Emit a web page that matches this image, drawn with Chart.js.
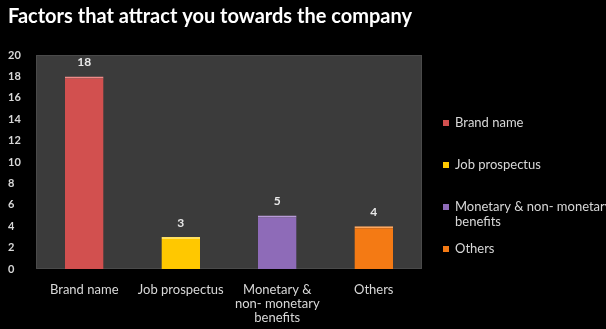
<!DOCTYPE html>
<html><head><meta charset="utf-8">
<script src="https://cdn.jsdelivr.net/npm/chart.js@4"></script>
<style>html,body{margin:0;padding:0;background:#000;}#wrap{width:606px;height:329px;position:relative;}</style>
</head><body><div id="wrap"><canvas id="c" width="606" height="329"></canvas></div>
<script>
const titleText = "Factors that attract you towards the company";
const categories = [["Brand name"], ["Job prospectus"], ["Monetary &", "non- monetary", "benefits"], ["Others"]];
const legendLabels = [["Brand name"], ["Job prospectus"], ["Monetary & non- monetary", "benefits"], ["Others"]];
const values = [18, 3, 5, 4];
const barColors = ["#d2504f", "#ffc800", "#8e6bb8", "#f47a14"];
const topColors = ["#f08a88", "#ffe060", "#b89ad8", "#ffa860"];
const yTicks = [0, 2, 4, 6, 8, 10, 12, 14, 16, 18, 20];

const FONT = "Lato, 'Open Sans', sans-serif";
const TXT = "#d8d8d8";

const bgPlugin = {
  id: 'bg',
  beforeDraw(chart) {
    const {ctx, chartArea: a} = chart;
    ctx.save();
    ctx.fillStyle = "#3b3b3b";
    ctx.fillRect(a.left, a.top, a.right - a.left, a.bottom - a.top);
    ctx.strokeStyle = "#4a4a4a";
    ctx.lineWidth = 1;
    ctx.strokeRect(a.left + 0.5, a.top + 0.5, a.right - a.left - 1, a.bottom - a.top - 1);
    ctx.restore();
  },
  afterDraw(chart) {
    const {ctx} = chart;
    ctx.save();
    // title
    ctx.fillStyle = "#ffffff";
    ctx.font = "bold 20px " + FONT;
    ctx.textBaseline = "middle";
    ctx.textAlign = "left";
    ctx.fillText(titleText, 8, 17);
    // value labels
    const meta = chart.getDatasetMeta(0);
    ctx.font = "bold 12px " + FONT;
    ctx.textAlign = "center";
    ctx.fillStyle = "#e8e8e8";
    meta.data.forEach((bar, i) => {
      ctx.fillText(String(values[i]), bar.x, bar.y - 14);
    });
    // legend
    ctx.textAlign = "left";
    ctx.font = "13px " + FONT;
    let y = 123;
    legendLabels.forEach((lines, i) => {
      ctx.fillStyle = barColors[i];
      ctx.fillRect(443, y - 3, 6, 6);
      ctx.fillStyle = TXT;
      lines.forEach((ln, k) => ctx.fillText(ln, 455, y + k * 15));
      y += 42;
    });
    ctx.restore();
  }
};

new Chart(document.getElementById('c'), {
  type: 'bar',
  data: {
    labels: categories,
    datasets: [{
      data: values,
      backgroundColor: barColors,
      borderColor: topColors,
      borderWidth: {top: 2, left: 0, right: 0, bottom: 0},
      borderSkipped: false,
      categoryPercentage: 1,
      barPercentage: 0.4
    }]
  },
  options: {
    responsive: false,
    animation: false,
    layout: {padding: {left: 8, top: 55, right: 184, bottom: 0}},
    plugins: {legend: {display: false}, title: {display: false}, tooltip: {enabled: false}},
    scales: {
      x: {
        grid: {display: false, drawTicks: false},
        border: {display: false},
        ticks: {color: TXT, font: {family: FONT, size: 13, lineHeight: 1.08}, padding: 14, maxRotation: 0, autoSkip: false},
        afterFit(s) { s.height = 60; }
      },
      y: {
        min: 0, max: 20,
        afterBuildTicks(s) { s.ticks = yTicks.map(v => ({value: v})); },
        grid: {display: false, drawTicks: false},
        border: {display: false},
        ticks: {color: TXT, font: {family: FONT, size: 11, weight: 'bold'}, crossAlign: 'far', padding: 4},
        afterFit(s) { s.width = 28; }
      }
    }
  },
  plugins: [bgPlugin]
});
</script>
</body></html>
